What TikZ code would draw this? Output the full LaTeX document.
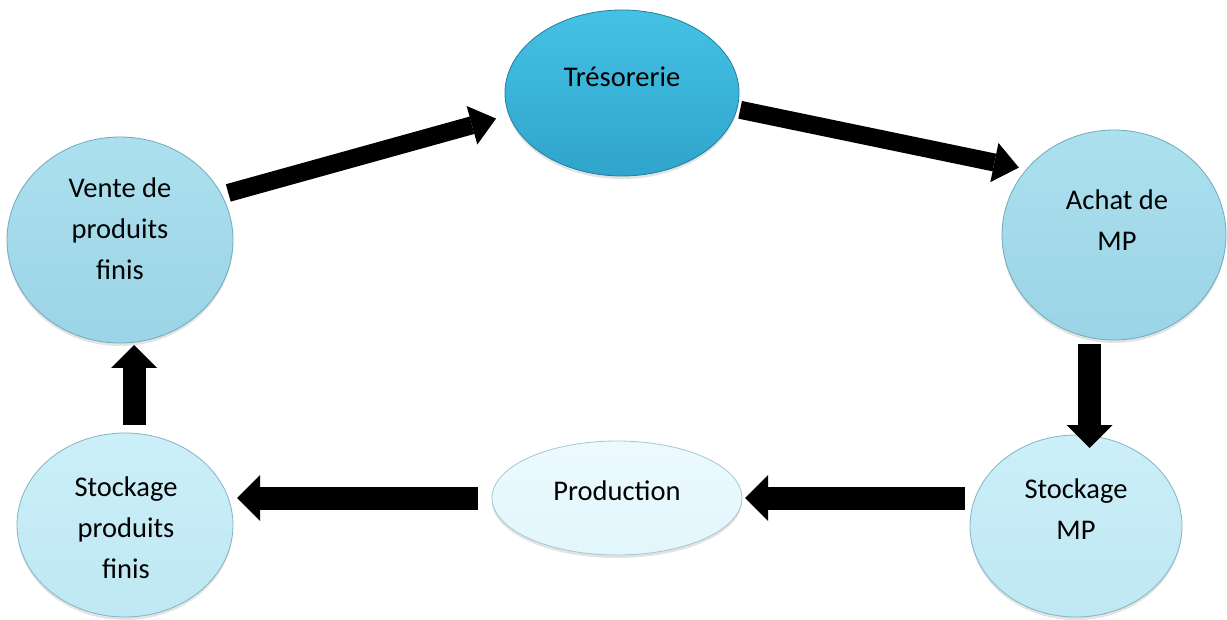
\documentclass[tikz,border=0pt]{standalone}
\usepackage{fontspec}
\setmainfont{Carlito}
\usetikzlibrary{arrows.meta,shapes.geometric,shadows}

% fills of the bubbles
\definecolor{tresoTop}{RGB}{68,194,228}
\definecolor{tresoBot}{RGB}{48,164,204}
\definecolor{tresoRim}{RGB}{34,126,158}
\definecolor{midTop}{RGB}{172,224,238}
\definecolor{midBot}{RGB}{155,212,230}
\definecolor{midRim}{RGB}{112,170,190}
\definecolor{paleTop}{RGB}{204,239,248}
\definecolor{paleBot}{RGB}{190,232,243}
\definecolor{paleRim}{RGB}{130,180,196}
\definecolor{iceTop}{RGB}{236,250,254}
\definecolor{iceBot}{RGB}{226,246,252}
\definecolor{iceRim}{RGB}{165,198,208}

\begin{document}
\begin{tikzpicture}[x=1pt,y=-1pt,
  bubble/.style={ellipse, inner sep=0pt, outer sep=0pt, line width=0.8pt,
    drop shadow={shadow xshift=0pt, shadow yshift=-3pt, opacity=0.22}},
  tresobubble/.style={bubble, top color=tresoTop, bottom color=tresoBot, draw=tresoRim},
  midbubble/.style={bubble, top color=midTop, bottom color=midBot, draw=midRim},
  palebubble/.style={bubble, top color=paleTop, bottom color=paleBot, draw=paleRim},
  icebubble/.style={bubble, top color=iceTop, bottom color=iceBot, draw=iceRim},
  captiontext/.style={font=\fontsize{28.5}{41}\selectfont, align=center, inner sep=0pt},
  slantflow/.style={draw=black, line width=18pt,
    -{Triangle[length=25pt,width=40pt,line width=0pt]}},
  straightflow/.style={draw=black, line width=23pt,
    -{Triangle[length=23pt,width=46pt,line width=0pt]}}
]
\useasboundingbox (0,0) rectangle (1227,620);

% bubbles of the cycle
\node[tresobubble, minimum width=234pt, minimum height=166pt] (treso) at (622,93) {};
\node[midbubble, minimum width=226pt, minimum height=206pt] (vente) at (120,240) {};
\node[midbubble, minimum width=224pt, minimum height=210pt] (achat) at (1114,235) {};
\node[palebubble, minimum width=212pt, minimum height=182pt] (stockmp) at (1076,526) {};
\node[palebubble, minimum width=216pt, minimum height=184pt] (stockpf) at (125,525) {};
\node[icebubble, minimum width=250pt, minimum height=114pt] (production) at (617,498) {};

% their captions
\node[captiontext] (treso-t) at (622,78.8) {\strut Trésorerie};
\node[captiontext] (vente-t) at (120,230.8) {\strut Vente de\\\strut produits\\\strut finis};
\node[captiontext] (achat-t) at (1117,221.8) {\strut Achat de\\\strut MP};
\node[captiontext] (stockmp-t) at (1076,510.3) {\strut Stockage\\\strut MP};
\node[captiontext] (stockpf-t) at (126,529.3) {\strut Stockage\\\strut produits\\\strut finis};
\node[captiontext] (production-t) at (617,491.8) {\strut Production};

% flow arrows
\draw[slantflow, shorten <=7pt, shorten >=13.6pt] (vente.24) -- (treso.191);
\draw[slantflow, shorten <=3.4pt, shorten >=8pt] (treso.352) -- (achat.143);
\draw[straightflow, shorten <=4pt, shorten >=-13pt]
  ([xshift=-24.5pt]achat.south) -- ([xshift=13.5pt]stockmp.north);
\draw[straightflow, shorten <=5pt, shorten >=3pt]
  ([yshift=28pt]stockmp.west) -- (production.east);
\draw[straightflow, shorten <=14pt, shorten >=4pt]
  (production.west) -- ([yshift=27pt]stockpf.east);
\draw[straightflow, shorten <=8pt, shorten >=2pt]
  ([xshift=9pt]stockpf.north) -- ([xshift=14pt]vente.south);
\end{tikzpicture}
\end{document}
